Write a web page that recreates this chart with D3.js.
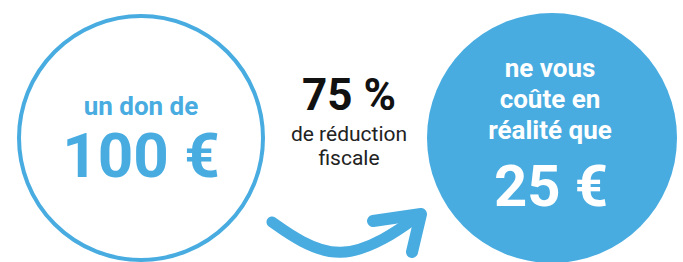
<!DOCTYPE html>
<html><head><meta charset="utf-8">
<script src="https://cdn.jsdelivr.net/npm/d3@7"></script>
<style>html,body{margin:0;padding:0;background:#fff;}svg{display:block;}</style>
</head><body>
<script>
// Data
const donation = [100];
const reductionPct = [75];
const realCost = [25];
const leftLabel = ["un don de"];
const middleLabel = ["de réduction", "fiscale"];
const rightLabel = ["ne vous", "coûte en", "réalité que"];
const currency = ["€"];

const W = 683, H = 262;
const blue = "#48ACE1";
const svg = d3.select("body").append("svg").attr("width", W).attr("height", H);

const font = "Roboto, 'Open Sans', sans-serif";

// scale for positioning the two circles along the flow
const x = d3.scalePoint().domain(["don", "reduction", "cout"]).range([141, 552]);
const cy = 138;

// Left circle (outline)
svg.append("circle").attr("cx", x("don")).attr("cy", cy).attr("r", 122)
  .attr("fill", "#fff").attr("stroke", blue).attr("stroke-width", 4);

svg.append("text").attr("x", x("don")).attr("y", 115)
  .attr("text-anchor", "middle").attr("font-family", font).attr("font-weight", 700)
  .attr("font-size", 26).attr("fill", blue).text(leftLabel[0]);
svg.append("text").attr("x", x("don")).attr("y", 177)
  .attr("text-anchor", "middle").attr("font-family", font).attr("font-weight", 700)
  .attr("font-size", 62).attr("fill", blue).text(donation[0] + " " + currency[0]);

// Right circle (filled)
svg.append("circle").attr("cx", x("cout")).attr("cy", cy).attr("r", 125)
  .attr("fill", blue);
rightLabel.forEach((t, i) => {
  svg.append("text").attr("x", x("cout") - 2).attr("y", [77, 108, 139][i])
    .attr("text-anchor", "middle").attr("font-family", font).attr("font-weight", 700)
    .attr("font-size", 26).attr("fill", "#fff").text(t);
});
svg.append("text").attr("x", x("cout") - 1).attr("y", 206)
  .attr("text-anchor", "middle").attr("font-family", font).attr("font-weight", 700)
  .attr("font-size", 58).attr("fill", "#fff").text(realCost[0] + " " + currency[0]);

// Middle text
const mx = 349;
svg.append("text").attr("x", mx).attr("y", 110)
  .attr("text-anchor", "middle").attr("font-family", font).attr("font-weight", 700)
  .attr("font-size", 44).attr("fill", "#111").text(reductionPct[0] + " %");
middleLabel.forEach((t, i) => {
  svg.append("text").attr("x", mx).attr("y", [141, 165][i])
    .attr("text-anchor", "middle").attr("font-family", font).attr("font-weight", 400)
    .attr("font-size", 21).attr("fill", "#222").text(t);
});

// Curved arrow
const line = d3.line().curve(d3.curveBasis);
svg.append("path")
  .attr("d", line([[272, 222], [300, 242], [340, 258], [385, 240], [418, 216]]))
  .attr("fill", "none").attr("stroke", blue).attr("stroke-width", 11)
  .attr("stroke-linecap", "round");
svg.append("path")
  .attr("d", d3.line()([[373, 221], [421, 214], [412, 252]]))
  .attr("fill", "none").attr("stroke", blue).attr("stroke-width", 12)
  .attr("stroke-linecap", "round").attr("stroke-linejoin", "round");
</script>
</body></html>
